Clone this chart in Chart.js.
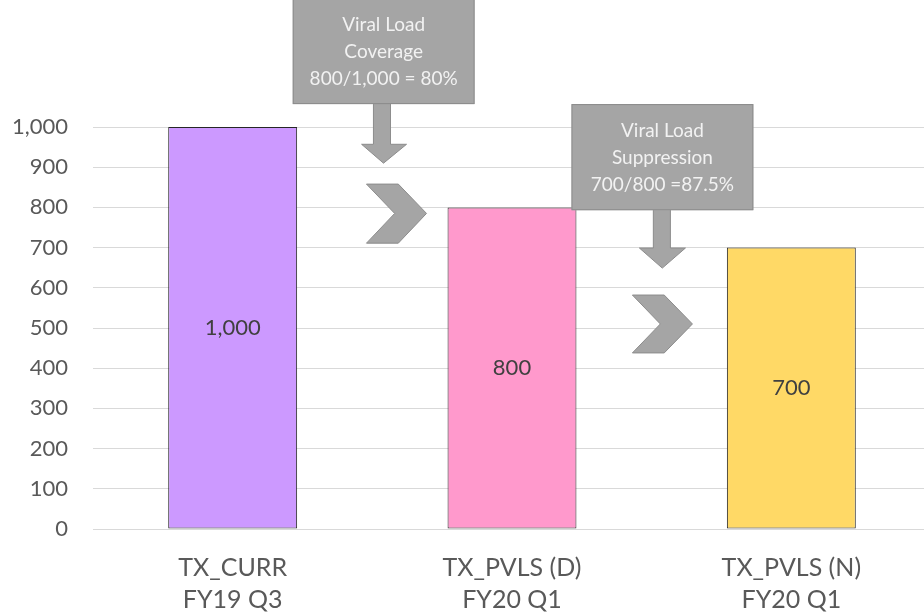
<!DOCTYPE html>
<html>
<head>
<meta charset="utf-8">
<script src="https://cdn.jsdelivr.net/npm/chart.js@4/dist/chart.umd.min.js"></script>
<style>
  html, body { margin: 0; padding: 0; background: #ffffff; }
  #wrap { width: 924px; height: 615px; overflow: hidden; position: relative; }
  canvas { display: block; }
</style>
</head>
<body>
<div id="wrap"><canvas id="c" width="931" height="615"></canvas></div>
<script>
// ---- data ----
const categories = [["TX_CURR", "FY19 Q3"], ["TX_PVLS (D)", "FY20 Q1"], ["TX_PVLS (N)", "FY20 Q1"]];
const values = [1000, 800, 700];
const barColors = ["#cc99ff", "#ff99cc", "#ffd966"];
const yTickMax = 1000;
const yTickStep = 100;
const callout1Lines = ["Viral Load", "Coverage", "800/1,000 = 80%"];
const callout2Lines = ["Viral Load", "Suppression", "700/800 =87.5%"];

const FONT = "Lato, 'Noto Sans', sans-serif";
const fmt = v => Number(v).toLocaleString('en-US');

const barLabels = {
  id: 'barLabels',
  afterDatasetsDraw(chart) {
    const ctx = chart.ctx;
    const meta = chart.getDatasetMeta(0);
    ctx.save();
    ctx.font = "22px " + FONT;
    ctx.fillStyle = "#404040";
    ctx.textAlign = "center";
    ctx.textBaseline = "middle";
    meta.data.forEach((el, i) => {
      ctx.fillText(fmt(values[i]), el.x, (el.y + el.base) / 2);
    });
    ctx.restore();
  }
};

const callouts = {
  id: 'callouts',
  afterDraw(chart) {
    const ctx = chart.ctx;
    const xs = chart.scales.x, ys = chart.scales.y;
    const x0 = xs.getPixelForValue(0), x1 = xs.getPixelForValue(1);
    const px = i => x0 + i * (x1 - x0);
    const py = v => ys.getPixelForValue(v);
    const fill = "#a5a5a5", stroke = "#8c8c8c";

    function poly(pts) {
      ctx.beginPath();
      pts.forEach((p, k) => k ? ctx.lineTo(p[0], p[1]) : ctx.moveTo(p[0], p[1]));
      ctx.closePath();
      ctx.fillStyle = fill; ctx.fill();
      ctx.strokeStyle = stroke; ctx.lineWidth = 1; ctx.stroke();
    }
    function callout(b, lines) {
      // arrow (stem + head)
      poly([
        [px(b.sl), py(b.bottom) - 1], [px(b.sr), py(b.bottom) - 1], [px(b.sr), py(b.headY)],
        [px(b.hr), py(b.headY)], [px(b.tipX), py(b.tipY)], [px(b.hl), py(b.headY)],
        [px(b.sl), py(b.headY)]
      ]);
      // box
      const L = px(b.left), R = px(b.right), T = py(b.top), B = py(b.bottom);
      ctx.fillStyle = fill; ctx.fillRect(L, T, R - L, B - T);
      ctx.strokeStyle = stroke; ctx.lineWidth = 1; ctx.strokeRect(L + 0.5, T + 0.5, R - L - 1, B - T - 1);
      ctx.fillStyle = "#f2f2f2";
      ctx.font = "19px " + FONT;
      ctx.textAlign = "center"; ctx.textBaseline = "middle";
      const cx = (L + R) / 2, cy = (T + B) / 2 + 1;
      lines.forEach((t, k) => ctx.fillText(t, cx, cy + (k - 1) * 27));
    }
    function chevron(c) {
      poly([
        [px(c.l), py(c.top)], [px(c.l + c.w * 0.53), py(c.top)], [px(c.r), py(c.mid)],
        [px(c.l + c.w * 0.53), py(c.bot)], [px(c.l), py(c.bot)], [px(c.notch), py(c.mid)]
      ]);
    }
    ctx.save();
    callout({left: 0.215, right: 0.866, top: 1320, bottom: 1057, sl: 0.504, sr: 0.565,
             headY: 957, hl: 0.4615, hr: 0.6225, tipX: 0.54, tipY: 910}, callout1Lines);
    callout({left: 1.213, right: 1.864, top: 1057, bottom: 793, sl: 1.506, sr: 1.567,
             headY: 699, hl: 1.456, hr: 1.621, tipX: 1.538, tipY: 649}, callout2Lines);
    chevron({l: 0.479, r: 0.694, w: 0.215, notch: 0.58, top: 858, mid: 785, bot: 711});
    chevron({l: 1.431, r: 1.646, w: 0.215, notch: 1.531, top: 582, mid: 510, bot: 438});
    ctx.restore();
  }
};

new Chart(document.getElementById('c'), {
  type: 'bar',
  data: {
    labels: categories,
    datasets: [{
      data: values,
      backgroundColor: barColors,
      borderColor: "#262626",
      borderWidth: 1,
      borderSkipped: false,
      categoryPercentage: 1,
      barPercentage: 0.4615
    }]
  },
  options: {
    responsive: false,
    animation: false,
    events: [],
    layout: { padding: { top: 127, left: 0, right: 0, bottom: 0 } },
    plugins: { legend: { display: false }, tooltip: { enabled: false } },
    scales: {
      x: {
        grid: { display: false, drawTicks: false },
        border: { display: false },
        ticks: { color: "#595959", font: { family: FONT, size: 25, lineHeight: 1.28 }, padding: 23, maxRotation: 0 },
        afterFit(s) { s.height = 86; }
      },
      y: {
        min: 0, max: yTickMax,
        grid: { color: "#d9d9d9", lineWidth: 1, drawTicks: false },
        border: { display: false },
        ticks: { stepSize: yTickStep, color: "#595959", font: { family: FONT, size: 22 }, padding: 25,
                 callback: v => fmt(v) },
        afterFit(s) { s.width = 93; }
      }
    }
  },
  plugins: [barLabels, callouts]
});
</script>
</body>
</html>
